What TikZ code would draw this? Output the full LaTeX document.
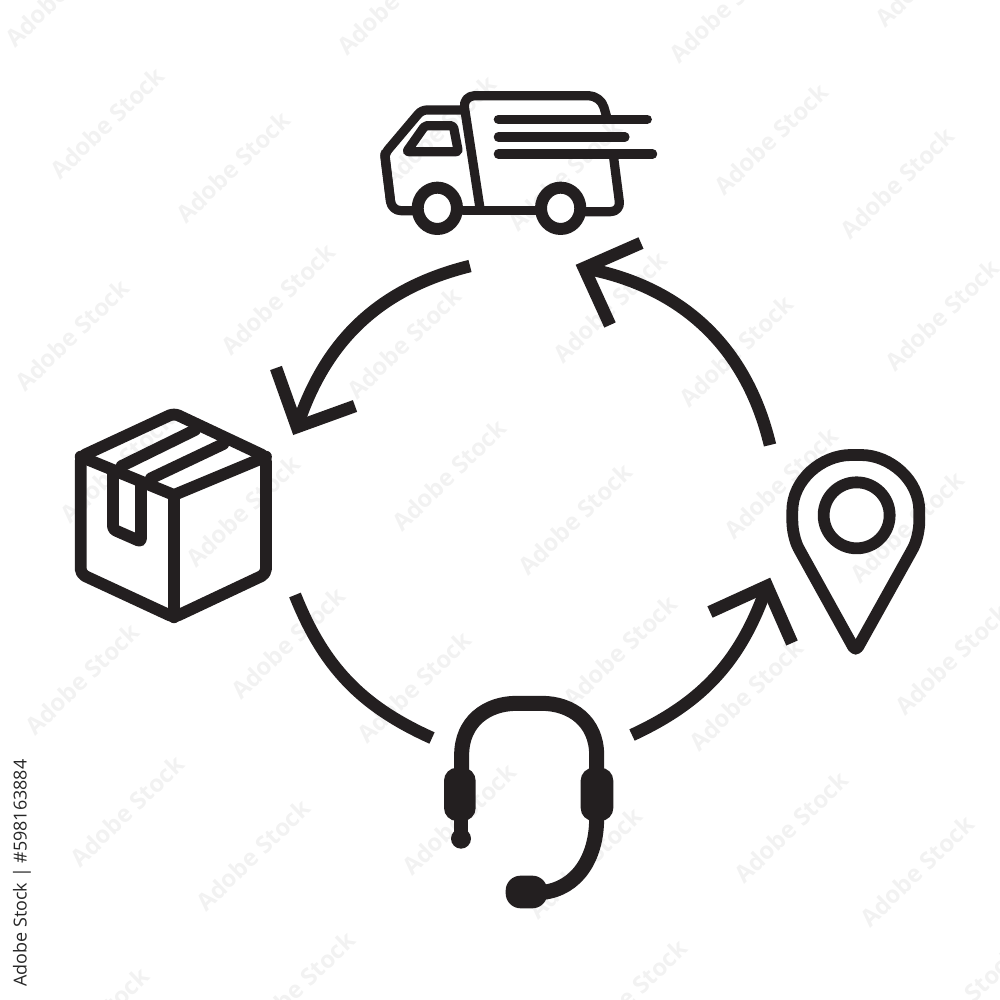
\documentclass[tikz,border=0pt]{standalone}
\usepackage{fontspec}
\setsansfont{Open Sans}
\definecolor{iconblack}{HTML}{231F20}

\begin{document}
\begin{tikzpicture}[
    x=0.01cm,y=-0.01cm,
    icon/.style      = {draw=iconblack,line width=.092cm,line join=round,line cap=round,rounded corners=.05cm},
    heavy icon/.style= {icon,line width=.118cm},
    solid part/.style= {fill=iconblack,draw=none},
    flow/.style      = {draw=iconblack,line width=.125cm},
    flow head/.style = {flow,line join=miter,line cap=butt},
    watermark/.style = {text=black!5,font=\sffamily\bfseries\fontsize{6.8pt}{7pt}\selectfont,rotate=44},
    stock label/.style = {text=black!85,font=\sffamily\fontsize{5.1pt}{6pt}\selectfont,rotate=90}
]
\useasboundingbox (0,0) rectangle (1000,1000);
\clip (0,0) rectangle (1000,1000);

% watermark

    \foreach \bx/\by in {107/123,233/167}
        \foreach \m in {-3,...,6}
            \foreach \n in {-4,...,4} {
                \pgfmathtruncatemacro{\wmx}{\bx+171*\m+161*\n}
                \pgfmathtruncatemacro{\wmy}{\by+176*\m-168*\n}
                \pgfmathtruncatemacro{\wmin}{and(and(\wmx>-30,\wmx<1030),and(\wmy>-30,\wmy<1030))}
                \ifnum\wmin=1
                    \node [watermark] (wm\bx-\m-\n) at (\wmx,\wmy) {Adobe Stock};
                \fi
            }

    \node [stock label] (stock) at (22,873) {Adobe Stock | \#598163884};

% arcs between the icons

    \coordinate (c1) at (770,445);
    \coordinate (c2) at (584,268);
    \coordinate (c3) at (470,266);
    \coordinate (c4) at (297,427);
    \coordinate (c5) at (295,595);
    \coordinate (c6) at (432,738);
    \coordinate (c7) at (632,735);
    \coordinate (c8) at (767,586);

    \coordinate (h1a) at (641,243);
    \coordinate (h1b) at (610,325);
    \coordinate (h2a) at (276,368);
    \coordinate (h2b) at (355,406);
    \coordinate (h3a) at (710,612);
    \coordinate (h3b) at (792,643);

    \draw [flow] (c1) to [bend right=33] (c2);
    \draw [flow] (c3) to [bend right=29] (c4);
    \draw [flow] (c5) to [bend right=22] (c6);
    \draw [flow] (c7) to [bend right=23] (c8);

    \draw [flow head] (h1a) -- (c2) -- (h1b);
    \draw [flow head] (h2a) -- (c4) -- (h2b);
    \draw [flow head] (h3a) -- (c8) -- (h3b);

% truck

\begin{scope}[shift={(370,80)},scale=.3333]

    \draw [icon,rounded corners=.09cm] (130,392) -- (65,392) -- (45,225);
    \draw [icon] (62,367) -- (45,235) -- (45,220) -- (155,90) -- (272,90);
    \draw [icon,rounded corners=.12cm] (330,385) -- (278,47) -- (692,47) -- (710,110);
    \draw [icon,rounded corners=.1cm] (730,225) -- (752,395) -- (640,395);
    \draw [icon] (280,392) -- (500,392);
    \draw [icon,rounded corners=.02cm] (110,215) -- (265,215) -- (250,137) -- (165,137) -- cycle;

    \draw [icon] (385,118) -- (832,118);
    \draw [icon] (385,171) -- (765,171);
    \draw [icon] (385,222) -- (848,222);

    \draw [icon,fill=white,line width=.12cm] (202,385) ellipse [x radius=59,y radius=62];
    \draw [icon,fill=white,line width=.12cm] (572,385) ellipse [x radius=59,y radius=62];

\end{scope}

% box

\begin{scope}[shift={(60,400)},scale=.3333]

    \draw [heavy icon] (342,40) -- (618,170) -- (618,522) -- (342,652) -- (62,522) -- (62,170) -- cycle;
    \draw [heavy icon,rounded corners=0] (62,170) -- (342,285) -- (618,170);
    \draw [heavy icon] (342,285) -- (342,652);
    \draw [heavy icon] (185,198) -- (405,90);
    \draw [heavy icon] (273,235) -- (490,132);
    \draw [heavy icon,rounded corners=.03cm] (159,225) -- (159,388) -- (243,425) -- (243,255);

\end{scope}

% pin

\begin{scope}[shift={(700,430)},scale=.3333]

    \draw [heavy icon] (467,664) -- (303,368)
        .. controls (285,335) and (277,300) .. (277,258)
        .. controls (277,150) and (365,75) .. (468,75)
        .. controls (570,75) and (658,150) .. (658,258)
        .. controls (658,300) and (650,335) .. (632,368) -- cycle;
    \draw [heavy icon] (470,256) circle [radius=99];

\end{scope}

% headset

\begin{scope}[shift={(430,685)},scale=.3333]

    \draw [icon,line width=.15cm,rounded corners=0] (95,300) -- (95,210)
        .. controls (95,110) and (170,55) .. (260,55) -- (335,55)
        .. controls (425,55) and (500,110) .. (500,210) -- (500,300);
    \fill [solid part,rounded corners=.13cm] (42,248) rectangle (137,408);
    \fill [solid part,rounded corners=.13cm] (452,248) rectangle (550,408);
    \draw [icon,line width=.13cm] (93,400) -- (93,460);
    \fill [solid part] (93,461) circle [radius=30];
    \draw [icon,line width=.15cm,rounded corners=0] (500,400) .. controls (500,520) and (440,610) .. (340,622);
    \fill [solid part,rounded corners=.15cm] (227,572) rectangle (352,670);

\end{scope}

\end{tikzpicture}
\end{document}
